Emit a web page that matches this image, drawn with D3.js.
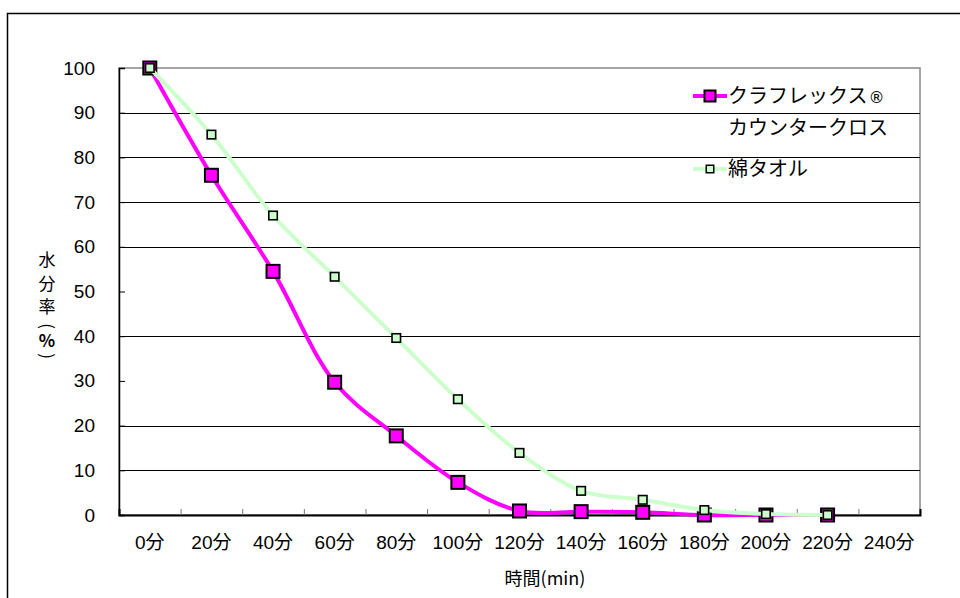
<!DOCTYPE html>
<meta charset="utf-8">
<script src="https://d3js.org/d3.v7.min.js"></script>
<html>
<head>
<style>
  body { margin: 0; background: #fff; }
  text { font-family: "Liberation Sans", "Noto Sans CJK JP", sans-serif; fill: #000; }
  .jp { font-family: "Noto Sans CJK JP", sans-serif; }
</style>
</head>
<body>
<div id="chart"></div>
<script>
// categories on the x axis
var categories = ["0分", "20分", "40分", "60分", "80分", "100分", "120分",
                  "140分", "160分", "180分", "200分", "220分", "240分"];
// moisture (%) per 20 min
var kuraflex = [100, 76, 54.5, 29.7, 17.7, 7.3, 0.9, 0.75, 0.6, 0, 0, 0];
var towel    = [100, 85.1, 67, 53.3, 39.6, 25.9, 13.9, 5.4, 3.4, 1.1, 0.2, 0];
var yTicks = [0, 10, 20, 30, 40, 50, 60, 70, 80, 90, 100];
var gridValues = [10, 20, 40, 60, 70, 80, 90];
var yTitle = ["水", "分", "率", "(", "%", ")"];

var width = 960, height = 598;
var plot = {left: 119, right: 920, top: 68, bottom: 515};

var svg = d3.select("#chart").append("svg")
    .attr("width", width)
    .attr("height", height);

// outer chart frame
svg.append("rect")
    .attr("x", 7.5).attr("y", 13.5)
    .attr("width", 1000).attr("height", 1000)
    .attr("fill", "none").attr("stroke", "#000").attr("stroke-width", 1.5);

var x = d3.scaleBand().domain(categories).range([plot.left, plot.right]);
var xEdge = d3.scaleLinear().domain([0, categories.length]).range([plot.left, plot.right]);
var y = d3.scaleLinear().domain([0, 100]).range([plot.bottom, plot.top]);

// plot area border (gray)
svg.append("rect")
    .attr("x", plot.left).attr("y", plot.top)
    .attr("width", plot.right - plot.left).attr("height", plot.bottom - plot.top)
    .attr("fill", "none").attr("stroke", "#888").attr("stroke-width", 1.5);

// gridlines
svg.append("g").selectAll("line")
  .data(gridValues)
  .enter().append("line")
    .attr("x1", plot.left).attr("x2", plot.right)
    .attr("y1", function(d) { return Math.round(y(d)) + 0.5; })
    .attr("y2", function(d) { return Math.round(y(d)) + 0.5; })
    .attr("stroke", "#000").attr("stroke-width", 1);

// y axis
var yAxis = svg.append("g")
    .attr("transform", "translate(" + plot.left + ",0)")
    .call(d3.axisLeft(y).tickValues(yTicks).tickSize(-6).tickPadding(24));
yAxis.select(".domain").attr("stroke", "#000").attr("stroke-width", 1.5);
yAxis.selectAll(".tick line").attr("stroke", "#000");
yAxis.selectAll("text").style("font-size", "19px")
    .style("font-family", "'Liberation Sans', sans-serif");

// x axis: labels at category centres, tick marks at category edges
var xAxis = svg.append("g")
    .attr("transform", "translate(0," + plot.bottom + ")")
    .call(d3.axisBottom(x).tickSize(0).tickPadding(21));
xAxis.select(".domain").remove();
xAxis.selectAll("text").style("font-size", "19px");

var xTicks = svg.append("g")
    .attr("transform", "translate(0," + plot.bottom + ")")
    .call(d3.axisBottom(xEdge).tickValues(d3.range(1, categories.length)).tickSize(-6).tickFormat(""));
xTicks.select(".domain").attr("stroke", "#000").attr("stroke-width", 2);
xTicks.selectAll(".tick line").attr("stroke", "#777");

// series
var line = d3.line()
    .x(function(d, i) { return x(categories[i]) + x.bandwidth() / 2; })
    .y(function(d) { return y(d); })
    .curve(d3.curveCatmullRom);

function drawSeries(values, color, size, sw) {
  svg.append("path")
      .datum(values)
      .attr("d", line)
      .attr("fill", "none")
      .attr("stroke", color)
      .attr("stroke-width", 4)
      .attr("stroke-linejoin", "round");
  svg.append("g").selectAll("rect")
    .data(values)
    .enter().append("rect")
      .attr("x", function(d, i) { return x(categories[i]) + x.bandwidth() / 2 - size / 2; })
      .attr("y", function(d) { return y(d) - size / 2; })
      .attr("width", size).attr("height", size)
      .attr("fill", color)
      .attr("stroke", "#000").attr("stroke-width", sw);
}
drawSeries(kuraflex, "#ff00ff", 13, 2);
drawSeries(towel, "#ccffcc", 8.5, 1.6);

// legend
var legend = [
  {label: ["クラフレックス", "カウンタークロス"], mark: "®", color: "#ff00ff", size: 11, sw: 2, y: 96},
  {label: ["綿タオル"], mark: "", color: "#ccffcc", size: 7.5, sw: 1.5, y: 169}
];
var lg = svg.append("g").selectAll("g")
  .data(legend)
  .enter().append("g")
    .attr("transform", function(d) { return "translate(693," + d.y + ")"; });
lg.append("line")
    .attr("x1", 0).attr("x2", 34)
    .attr("stroke", function(d) { return d.color; })
    .attr("stroke-width", 4);
lg.append("rect")
    .attr("x", function(d) { return 17 - d.size / 2; })
    .attr("y", function(d) { return -d.size / 2; })
    .attr("width", function(d) { return d.size; })
    .attr("height", function(d) { return d.size; })
    .attr("fill", function(d) { return d.color; })
    .attr("stroke", "#000")
    .attr("stroke-width", function(d) { return d.sw; });
lg.each(function(d) {
  var g = d3.select(this);
  d.label.forEach(function(t, i) {
    var txt = g.append("text")
        .attr("class", "jp")
        .attr("x", 35)
        .attr("y", i * 32)
        .attr("dy", "0.36em")
        .style("font-size", "20px")
        .text(t);
    if (i === 0 && d.mark) {
      txt.append("tspan")
          .style("font-family", "'DejaVu Sans', sans-serif")
          .style("font-size", "16px")
          .attr("dx", 1)
          .text(d.mark);
    }
  });
});

// axis titles
svg.append("text")
    .attr("class", "jp")
    .attr("x", 545).attr("y", 579)
    .attr("dy", "0.36em")
    .attr("text-anchor", "middle")
    .style("font-size", "18px")
    .text("時間(min)");

var yt = svg.append("g").attr("transform", "translate(47,0)");
yt.selectAll("text")
  .data(yTitle)
  .enter().append("text")
    .attr("class", "jp")
    .attr("text-anchor", "middle")
    .attr("dy", "0.36em")
    .style("font-size", "17px")
    .attr("transform", function(d, i) {
      var cy = [260, 284, 307, 326, 341, 356][i];
      if (d === "(" || d === ")") return "translate(0," + cy + ") rotate(90)";
      return "translate(0," + cy + ")";
    })
    .style("font-weight", function(d) { return d === "%" ? "bold" : null; })
    .text(function(d) { return d; });
</script>
</body>
</html>
